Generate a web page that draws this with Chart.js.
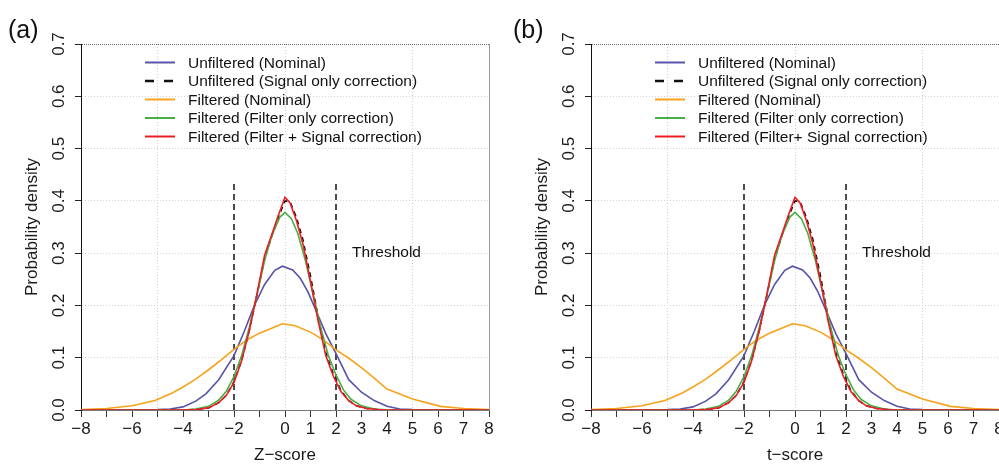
<!DOCTYPE html>
<html lang="en">

<head>
    <meta charset="UTF-8">
    <title>Score distributions</title>
    <style>
        body { margin: 0; width: 999px; height: 464px; overflow: hidden; background: #fff; position: relative; }
        .panel { position: absolute; top: 0; width: 500px; height: 464px; }
    </style>
</head>

<body>
    <div class="panel" style="left:0"><canvas id="chartA" width="500" height="464"></canvas></div>
    <div class="panel" style="left:510px"><canvas id="chartB" width="500" height="464"></canvas></div>

    <script src="https://cdn.jsdelivr.net/npm/chart.js"></script>

    <script>
        // values (both panels share the same curves)
        const blueX = [-8, -5, -4.5, -4, -3.5, -3.1, -2.6, -2, -1.6, -1.2, -0.8, -0.4, -0.1, 0.3, 0.6, 0.9, 1.2, 1.6, 2, 2.5, 3, 3.5, 4, 4.5, 5, 8];
        const blueY = [0, 0.001, 0.002, 0.006, 0.017, 0.031, 0.058, 0.104, 0.150, 0.200, 0.240, 0.267, 0.275, 0.268, 0.252, 0.226, 0.192, 0.146, 0.108, 0.058, 0.034, 0.018, 0.007, 0.002, 0.001, 0];

        const blackX = [-8, -4, -3.5, -3, -2.6, -2.3, -2, -1.7, -1.4, -1.1, -0.8, -0.5, -0.25, 0, 0.2, 0.45, 0.7, 1, 1.3, 1.6, 1.9, 2.2, 2.5, 2.8, 3.2, 3.6, 4, 8];
        const blackY = [0, 0, 0.001, 0.004, 0.014, 0.028, 0.054, 0.095, 0.152, 0.220, 0.290, 0.335, 0.370, 0.400, 0.398, 0.368, 0.326, 0.256, 0.178, 0.110, 0.068, 0.037, 0.018, 0.008, 0.003, 0.001, 0, 0];

        const orangeX = [-8, -7, -6, -5.1, -4.4, -4, -3.5, -3, -2.5, -2, -1.5, -1, -0.5, -0.1, 0.4, 1, 1.5, 2, 2.5, 3, 3.5, 4, 5, 6.1, 7, 8];
        const orangeY = [0.001, 0.003, 0.008, 0.018, 0.033, 0.044, 0.059, 0.077, 0.096, 0.116, 0.134, 0.147, 0.157, 0.165, 0.161, 0.149, 0.134, 0.115, 0.099, 0.081, 0.061, 0.040, 0.021, 0.007, 0.003, 0.001];

        const greenX = [-8, -4, -3.5, -3, -2.6, -2.3, -2, -1.7, -1.4, -1.1, -0.8, -0.5, -0.2, 0, 0.25, 0.5, 0.8, 1.1, 1.4, 1.7, 2, 2.3, 2.6, 3, 3.5, 4, 8];
        const greenY = [0, 0, 0.002, 0.007, 0.019, 0.036, 0.064, 0.104, 0.158, 0.220, 0.286, 0.336, 0.369, 0.378, 0.366, 0.338, 0.286, 0.222, 0.158, 0.104, 0.067, 0.038, 0.020, 0.008, 0.002, 0, 0];

        const redX = [-8, -4, -3.5, -3, -2.6, -2.3, -2, -1.7, -1.4, -1.1, -0.8, -0.5, -0.25, 0, 0.2, 0.45, 0.7, 1, 1.3, 1.6, 1.9, 2.2, 2.5, 2.8, 3.2, 3.6, 4, 8];
        const redY = [0, 0, 0.001, 0.004, 0.014, 0.028, 0.053, 0.094, 0.152, 0.222, 0.296, 0.338, 0.374, 0.407, 0.396, 0.362, 0.318, 0.246, 0.170, 0.104, 0.064, 0.035, 0.018, 0.008, 0.003, 0.001, 0, 0];

        const thresholdX = [-2, 2];
        const thresholdTop = 0.44;

        const legendA = ['Unfiltered (Nominal)', 'Unfiltered (Signal only correction)', 'Filtered (Nominal)',
            'Filtered (Filter only correction)', 'Filtered (Filter + Signal correction)'];
        const legendB = ['Unfiltered (Nominal)', 'Unfiltered (Signal only correction)', 'Filtered (Nominal)',
            'Filtered (Filter only correction)', 'Filtered (Filter+ Signal correction)'];

        const xTickLabels = [-8, -6, -4, -2, 0, 1, 2, 3, 4, 5, 6, 7, 8];
        const xGridAt = [-5, 0, 5];

        const FONT = "'Liberation Sans', Arial, Helvetica, sans-serif";
        Chart.defaults.font.family = FONT;
        Chart.defaults.color = '#1a1a1a';

        const toPoints = (xs, ys) => xs.map((x, i) => ({ x: x, y: ys[i] }));

        function makeSeries(labels) {
            return [
                { label: labels[0], data: toPoints(blueX, blueY), color: '#5754a8', dash: [] },
                { label: labels[1], data: toPoints(blackX, blackY), color: '#111111', dash: [5, 4] },
                { label: labels[2], data: toPoints(orangeX, orangeY), color: '#f7a21b', dash: [] },
                { label: labels[3], data: toPoints(greenX, greenY), color: '#46b046', dash: [] },
                { label: labels[4], data: toPoints(redX, redY), color: '#ec1c24', dash: [] }
            ];
        }

        // legend, panel tag and the "Threshold" note
        const decor = {
            id: 'decor',
            afterDraw(chart, args, opts) {
                const { ctx, chartArea: area, scales } = chart;
                ctx.save();
                ctx.fillStyle = '#111';
                ctx.textBaseline = 'middle';
                ctx.textAlign = 'left';
                ctx.font = '25px ' + FONT;
                ctx.fillText(opts.tag, opts.tagX, 31);

                ctx.font = '15.5px ' + FONT;
                ctx.fillText('Threshold', scales.x.getPixelForValue(2.63), scales.y.getPixelForValue(0.30));

                opts.series.forEach((s, i) => {
                    const yy = area.top + 18.5 + i * 18.5;
                    ctx.beginPath();
                    ctx.strokeStyle = s.color;
                    ctx.lineWidth = s.dash.length ? 2.5 : 2;
                    ctx.setLineDash(s.dash.length ? [9, 10] : []);
                    ctx.moveTo(area.left + 64, yy);
                    ctx.lineTo(area.left + 94, yy);
                    ctx.stroke();
                    ctx.setLineDash([]);
                    ctx.fillStyle = '#111';
                    ctx.fillText(s.label, area.left + 107, yy + 1);
                });
                ctx.restore();
            }
        };

        function buildChart(id, tag, tagX, xTitle, labels) {
            const series = makeSeries(labels);
            const datasets = series.map(s => ({
                label: s.label,
                data: s.data,
                borderColor: s.color,
                borderDash: s.dash,
                borderWidth: 1.6,
                pointRadius: 0,
                tension: 0,
                showLine: true
            })).reverse();
            thresholdX.forEach(tx => datasets.push({
                label: 'threshold',
                data: [{ x: tx, y: 0 }, { x: tx, y: thresholdTop }],
                borderColor: '#111',
                borderDash: [6, 4],
                borderWidth: 1.5,
                pointRadius: 0,
                showLine: true
            }));

            return new Chart(document.getElementById(id), {
                type: 'scatter',
                data: { datasets: datasets },
                options: {
                    responsive: false,
                    animation: false,
                    layout: { padding: { left: 0, right: 11, top: 44, bottom: 0 } },
                    plugins: {
                        legend: { display: false },
                        tooltip: { enabled: false },
                        decor: { tag: tag, tagX: tagX, series: series }
                    },
                    scales: {
                        x: {
                            type: 'linear',
                            min: -8,
                            max: 8,
                            afterFit: s => { s.height = 54; },
                            border: {
                                color: '#777',
                                width: 1,
                                dash: c => (c.tick && c.tick.value === 8) ? [] : [1, 2]
                            },
                            grid: {
                                color: c => xGridAt.includes(c.tick.value) ? '#cfcfcf' : (c.tick.value === 8 ? '#9a9a9a' : 'rgba(0,0,0,0)'),
                                tickColor: '#333',
                                tickLength: 7,
                                tickBorderDash: []
                            },
                            ticks: {
                                stepSize: 1,
                                autoSkip: false,
                                maxRotation: 0,
                                padding: 2,
                                font: { size: 17 },
                                color: '#1a1a1a',
                                callback: v => xTickLabels.includes(v) ? String(v).replace('-', '\u2212') : ''
                            },
                            title: {
                                display: true,
                                text: xTitle,
                                font: { size: 17 },
                                color: '#1a1a1a',
                                padding: { top: 0, bottom: -2 }
                            }
                        },
                        y: {
                            min: 0,
                            max: 0.7,
                            afterFit: s => { s.width = 81; },
                            border: {
                                color: '#111',
                                width: 1,
                                dash: c => (c.tick && c.tick.value > 0.05 && c.tick.value < 0.65) ? [1, 2] : (c.tick ? [1, 1] : [])
                            },
                            grid: {
                                color: c => c.tick.value < 0.05 ? '#555' : (c.tick.value > 0.65 ? '#666' : '#d2d2d2'),
                                tickColor: '#222',
                                tickLength: 6,
                                tickBorderDash: []
                            },
                            ticks: {
                                stepSize: 0.1,
                                minRotation: 90,
                                maxRotation: 90,
                                crossAlign: 'center',
                                padding: 4,
                                font: { size: 17 },
                                color: '#1a1a1a',
                                callback: v => v.toFixed(1)
                            },
                            title: {
                                display: true,
                                text: 'Probability density',
                                font: { size: 17 },
                                color: '#1a1a1a',
                                padding: { top: 22, bottom: 0 }
                            }
                        }
                    }
                },
                plugins: [decor]
            });
        }

        buildChart('chartA', '(a)', 8, 'Z\u2212score', legendA);
        buildChart('chartB', '(b)', 3, 't\u2212score', legendB);
    </script>

</body>

</html>
